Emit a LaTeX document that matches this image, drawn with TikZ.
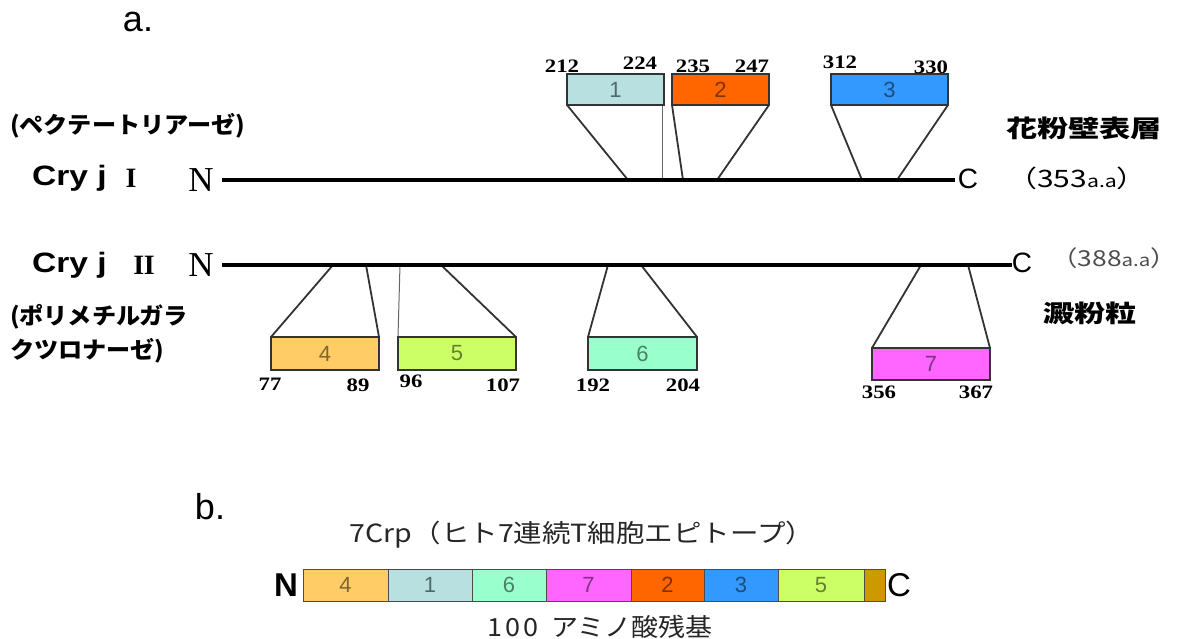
\documentclass[tikz,border=0pt]{standalone}
\usepackage{fontspec}
\usepackage{graphicx}
\setmainfont{Liberation Serif}
\newfontfamily\sansf{Liberation Sans}
\newfontfamily\jpf{Noto Sans CJK JP}
\newcommand{\fsz}[1]{\fontsize{#1}{#1}\selectfont}
\newcommand{\sx}[2]{\scalebox{#1}[1]{#2}}
\definecolor{c1}{HTML}{B8E0E0}\definecolor{t1}{HTML}{4D6B6B}
\definecolor{c2}{HTML}{FF6600}\definecolor{t2}{HTML}{803300}
\definecolor{c3}{HTML}{3399FF}\definecolor{t3}{HTML}{1A4D80}
\definecolor{c4}{HTML}{FFCC66}\definecolor{t4}{HTML}{806633}
\definecolor{c5}{HTML}{CCFF66}\definecolor{t5}{HTML}{668033}
\definecolor{c6}{HTML}{99FFCC}\definecolor{t6}{HTML}{4D8066}
\definecolor{c7}{HTML}{FF66FF}\definecolor{t7}{HTML}{803380}
\definecolor{cb}{HTML}{CC9900}
\begin{document}
\begin{tikzpicture}[x=1pt,y=-1pt,
  every node/.style={inner sep=0pt,outer sep=0pt},
  epi/.style={draw=black!80,line width=1.8pt,font=\sansf\fsz{22}},
  seg/.style={draw=black!70,line width=0.8pt,minimum height=32pt,font=\sansf\fsz{22}},
  conn/.style={draw=black!80,line width=1.8pt},
  thinconn/.style={draw=black!60,line width=1pt},
  mainline/.style={line width=4pt},
  num/.style={font=\bfseries\fsz{19}},
  jp/.style={font=\jpf\bfseries\fsz{23}},
  jpbig/.style={font=\jpf\bfseries\fsz{24}}]
\useasboundingbox (0,0) rectangle (1178,639);

% labels
\node (la) at (138,22) {\sansf\fsz{36}a.};
\node (lb) at (210,507) {\sansf\fsz{36}b.};

% line coordinates
\coordinate (L1s) at (222,180); \coordinate (L1e) at (955,180);
\coordinate (L2s) at (222,265); \coordinate (L2e) at (1012,265);

% epitope boxes top
\node[epi,fill=c1,text=t1,minimum width=97pt,minimum height=31pt] (e1) at (615.5,89.5) {1};
\node[epi,fill=c2,text=t2,minimum width=97pt,minimum height=31pt] (e2) at (720.5,89.5) {2};
\node[epi,fill=c3,text=t3,minimum width=117pt,minimum height=31pt] (e3) at (889.5,89.5) {3};
% bottom
\node[epi,fill=c4,text=t4,minimum width=108pt,minimum height=33pt] (e4) at (325,353.5) {4};
\node[epi,fill=c5,text=t5,minimum width=118pt,minimum height=33pt] (e5) at (457,353.5) {5};
\node[epi,fill=c6,text=t6,minimum width=109pt,minimum height=33pt] (e6) at (642.5,353.5) {6};
\node[epi,fill=c7,text=t7,minimum width=118pt,minimum height=32pt] (e7) at (931,364) {7};

% anchor points on lines
\coordinate (p1a) at (628,180); \coordinate (p1b) at (662,180);
\coordinate (p2a) at (683,180); \coordinate (p2b) at (717,180);
\coordinate (p3a) at (862,180); \coordinate (p3b) at (897,180);
\coordinate (p4a) at (333,265); \coordinate (p4b) at (366,265);
\coordinate (p5a) at (400,265); \coordinate (p5b) at (441,265);
\coordinate (p6a) at (608,265); \coordinate (p6b) at (641,265);
\coordinate (p7a) at (921,265); \coordinate (p7b) at (968,265);

\draw[conn] (e1.south west) -- (p1a);
\draw[thinconn] ([xshift=-2pt]e1.south east) -- (p1b);
\draw[conn] (e2.south west) -- (p2a);
\draw[conn] (e2.south east) -- (p2b);
\draw[conn] (e3.south west) -- (p3a);
\draw[conn] (e3.south east) -- (p3b);
\draw[conn] (e4.north west) -- (p4a);
\draw[conn] (e4.north east) -- (p4b);
\draw[thinconn] (e5.north west) -- (p5a);
\draw[conn] (e5.north east) -- (p5b);
\draw[conn] (e6.north west) -- (p6a);
\draw[conn] (e6.north east) -- (p6b);
\draw[conn] (e7.north west) -- (p7a);
\draw[conn] (e7.north east) -- (p7b);

\draw[mainline] (L1s) -- (L1e);
\draw[mainline] (L2s) -- (L2e);

% redraw boxes above connectors
\node[epi,fill=c1,text=t1,minimum width=97pt,minimum height=31pt] at (e1) {1};
\node[epi,fill=c2,text=t2,minimum width=97pt,minimum height=31pt] at (e2) {2};
\node[epi,fill=c3,text=t3,minimum width=117pt,minimum height=31pt] at (e3) {3};
\node[epi,fill=c4,text=t4,minimum width=108pt,minimum height=33pt] at (e4) {4};
\node[epi,fill=c5,text=t5,minimum width=118pt,minimum height=33pt] at (e5) {5};
\node[epi,fill=c6,text=t6,minimum width=109pt,minimum height=33pt] at (e6) {6};
\node[epi,fill=c7,text=t7,minimum width=118pt,minimum height=32pt] at (e7) {7};

% N / C ends
\node (N1) at (201,180) {\fsz{35}N};
\node (N2) at (201,265) {\fsz{35}N};
\node (C1) at (968,179) {\sansf\fsz{28}C};
\node (C2) at (1022,263) {\sansf\fsz{28}C};

% names
\node[anchor=west] (cj1) at (32,178) {\sx{1.2}{\sansf\bfseries\fsz{28}Cry j}};
\node (r1) at (131,178) {\bfseries\fsz{28}I};
\node[anchor=west] (cj2) at (32,265) {\sx{1.2}{\sansf\bfseries\fsz{28}Cry j}};
\node (r2) at (144,265) {\bfseries\fsz{28}I\kern-0.5ptI};

\node[jp,anchor=west] (pec) at (10,126) {\sx{1.05}{(ペクテートリアーゼ)}};
\node[jp,anchor=west] (pg1) at (10,317) {\sx{1.05}{(ポリメチルガラ}};
\node[jp,anchor=west] (pg2) at (10,351) {\sx{1.05}{クツロナーゼ)}};

\node[jpbig] (kaf) at (1084,128) {\sx{1.3}{花粉壁表層}};
\node[jpbig] (den) at (1090,313) {\sx{1.3}{澱粉粒}};
\node (aa1) at (1077,178) {\sx{1.25}{\jpf\fsz{24}（353{\fsz{17}a.a}）}};
\node[text=black!70] (aa2) at (1114,258) {\sx{1.2}{\jpf\fsz{22}（388{\fsz{17}a.a}）}};

% residue numbers
\node[num] at (562,66) {\sx{1.2}{212}};
\node[num] at (640,63) {\sx{1.2}{224}};
\node[num] at (693,66) {\sx{1.2}{235}};
\node[num] at (752,66) {\sx{1.2}{247}};
\node[num] at (840,62) {\sx{1.2}{312}};
\node[num] at (931,67) {\sx{1.2}{330}};
\node[num] at (270,384) {\sx{1.2}{77}};
\node[num] at (358,385) {\sx{1.2}{89}};
\node[num] at (411,381) {\sx{1.2}{96}};
\node[num] at (503,385) {\sx{1.2}{107}};
\node[num] at (593,385) {\sx{1.2}{192}};
\node[num] at (683,385) {\sx{1.2}{204}};
\node[num] at (879,392) {\sx{1.2}{356}};
\node[num] at (976,392) {\sx{1.2}{367}};

% part b
\node[font=\jpf\fsz{25},text=black!85] (title) at (582,535) {\sx{1.14}{7Crp（ヒト7連続T細胞エピトープ）}};
\node[seg,fill=c4,text=t4,minimum width=85pt] (s4) at (345.5,585) {4};
\node[seg,fill=c1,text=t1,minimum width=84pt] (s1) at (430,585) {1};
\node[seg,fill=c6,text=t6,minimum width=74pt] (s6) at (509,585) {6};
\node[seg,fill=c7,text=t7,minimum width=85pt] (s7) at (588.5,585) {7};
\node[seg,fill=c2,text=t2,minimum width=73pt] (s2) at (667.5,585) {2};
\node[seg,fill=c3,text=t3,minimum width=74pt] (s3) at (741,585) {3};
\node[seg,fill=c5,text=t5,minimum width=86pt] (s5) at (821,585) {5};
\node[seg,fill=cb,minimum width=21pt] (sb) at (874.5,585) {};
\node (Nb) at (286,585) {\sansf\bfseries\fsz{33}N};
\node (Cb) at (899,585) {\sansf\fsz{33}C};
\node[font=\jpf\fsz{25},text=black!85] (len) at (600,627) {\sx{1.08}{1\kern3pt0\kern3pt0\kern12pt アミノ酸残基}};
\end{tikzpicture}
\end{document}
